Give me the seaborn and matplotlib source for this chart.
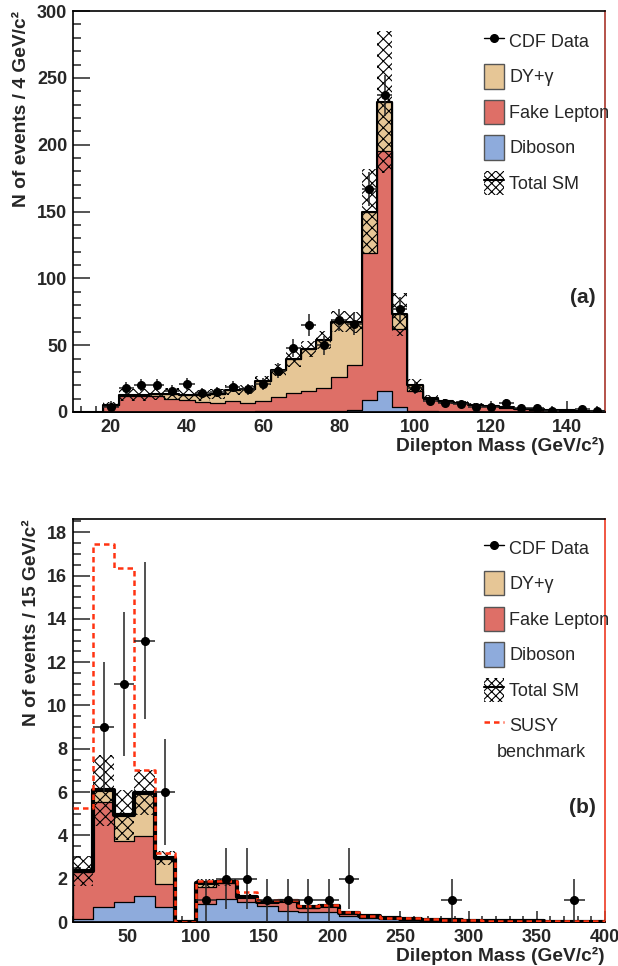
import numpy as np
import pandas as pd
import matplotlib
matplotlib.use("Agg")
import matplotlib.pyplot as plt
import seaborn as sns
from matplotlib.patches import Patch
from matplotlib.lines import Line2D
from matplotlib.legend_handler import HandlerTuple
from matplotlib.ticker import MultipleLocator

# ---------------- panel (a): 4 GeV bins from 10 to 150
edges_a = np.arange(10, 151, 4)
diboson_a = [0, 0, 0.2, 0.3, 0.3, 0.3, 0.3, 0.3, 0.3, 0.3, 0.3, 0.3, 0.4, 0.4, 0.5, 0.5, 0.6, 0.8,
             1.3, 9, 16, 3.5, 0.8, 0.4, 0.3, 0.3, 0.2, 0.2, 0.2, 0.1, 0.1, 0.1, 0.1, 0.1, 0.1]
fake_a = [0, 0, 5.3, 11.7, 11.7, 11.7, 9.7, 8.4, 7.1, 6.4, 7.7, 6.7, 7.6, 10.6, 13.5, 15.5, 17.4, 25.2,
          33.7, 110, 179, 58.5, 15.2, 9.1, 7.2, 6.2, 4.8, 4.0, 3.1, 2.2, 1.7, 1.3, 1.0, 0.8, 0.6]
dy_a = [0, 0, 0, 0.5, 1, 1.5, 3.5, 4.3, 5.1, 6.8, 8.5, 10, 15.5, 20.5, 26, 31.5, 36, 41.5,
        32, 31, 37, 11, 4, 1, 0.5, 0.5, 0.5, 0.3, 0.2, 0.2, 0.2, 0.1, 0.1, 0.1, 0.1]
sm_err_a = [0, 0, 2, 4.5, 4.5, 4.5, 4.5, 4, 4, 4, 3.5, 3.5, 3.5, 4.5, 6, 6, 6.5, 8,
            8, 32, 53, 16, 5, 2.5, 2, 1.5, 1.2, 1, 0.8, 0.6, 0.5, 0.4, 0.3, 0.3, 0.2]
data_a = [0, 0, 4, 18, 20, 20, 16, 21, 14, 15, 19, 17, 21, 31, 48, 65, 50, 69,
          66, 167, 237, 77, 18, 8, 7, 6, 4, 4, 7, 3, 3, 1, 0, 2, 1]

# ---------------- panel (b): 15 GeV bins from 10 to 400
edges_b = np.arange(10, 401, 15)
diboson_b = [0.15, 0.68, 0.94, 1.19, 0.68, 0, 0.84, 1.07, 0.91, 0.73, 0.53, 0.46, 0.45,
             0.26, 0.2, 0.14, 0.12, 0.08, 0.06, 0.05, 0.04, 0.04, 0.03, 0.02, 0.02, 0.02]
fake_b = [2.15, 4.87, 2.82, 2.77, 1.07, 0, 0.76, 0.71, 0.23, 0.18, 0.46, 0.19, 0.27,
          0.16, 0.05, 0.03, 0.02, 0.02, 0.02, 0.01, 0.01, 0.01, 0, 0, 0, 0]
dy_b = [0.06, 0.54, 1.19, 2.02, 1.22, 0, 0.18, 0.05, 0.03, 0.03, 0, 0.03, 0.03,
        0.02, 0.01, 0.01, 0.01, 0, 0, 0.01, 0, 0.01, 0, 0, 0, 0]
sm_err_b = [0.71, 1.64, 1.14, 1.05, 0.33, 0, 0.2, 0.15, 0.12, 0.08, 0.08, 0.06, 0.06,
            0.05, 0.03, 0.02, 0.02, 0.01, 0.01, 0.01, 0.01, 0.01, 0.01, 0, 0, 0]
susy_b = [5.28, 17.47, 16.35, 7.0, 3.2, 0, 1.9, 1.9, 1.37, 1.0, 1.0, 0.72, 0.8,
          0.48, 0.3, 0.2, 0.17, 0.12, 0.1, 0.08, 0.06, 0.07, 0.04, 0.03, 0.03, 0.03]
data_b = [0, 9, 11, 13, 6, 0, 1, 2, 2, 1, 1, 1, 1, 2, 0, 0, 0, 0, 1, 0, 0, 0, 0, 0, 1, 0]

c_dy = "#e6c696"
c_fake = "#de6f67"
c_dib = "#8eabdc"
c_susy = "#ff3311"
susy_dash = (0, (2.2, 1.6))

sns.set_style("ticks")
plt.rcParams["font.family"] = ["Liberation Sans", "DejaVu Sans"]
plt.rcParams["hatch.linewidth"] = 0.8


def draw_panel(ax, edges, dib, fake, dy, err, data, total_lw, susy=None):
    centers = 0.5 * (edges[:-1] + edges[1:])
    widths = np.diff(edges)
    nb = len(centers)
    rng = (float(edges[0]), float(edges[-1]))
    dib = np.array(dib, float)
    fake = np.array(fake, float)
    dy = np.array(dy, float)
    total = dib + fake + dy
    err = np.array(err, float)
    data = np.array(data, float)

    df = pd.DataFrame({"m": centers, "dib": dib, "red": dib + fake, "tot": total})
    # stacked layers, drawn from the top layer down
    for col, c in [("tot", c_dy), ("red", c_fake), ("dib", c_dib)]:
        sns.histplot(data=df, x="m", weights=col, bins=nb, binrange=rng, element="step",
                     fill=True, color=c, alpha=1, edgecolor="black", linewidth=0.9, ax=ax)
    # SM uncertainty band
    ax.bar(centers, 2 * err, bottom=total - err, width=widths, fill=False,
           hatch="xxx", edgecolor="black", linewidth=0, zorder=3)
    sns.histplot(data=df, x="m", weights="tot", bins=nb, binrange=rng, element="step",
                 fill=False, color="black", linewidth=total_lw, ax=ax, zorder=4)
    if susy is not None:
        df["susy"] = susy
        sns.histplot(data=df, x="m", weights="susy", bins=nb, binrange=rng, element="step",
                     fill=False, color=c_susy, linewidth=1.8, linestyle=susy_dash,
                     ax=ax, zorder=5)
    m = data > 0
    ax.errorbar(centers[m], data[m], xerr=widths[m] / 2, yerr=np.sqrt(data[m]), fmt="o",
                color="black", ecolor="#222222", ms=5.5, elinewidth=1.1, capsize=0, zorder=6)


fig = plt.figure(figsize=(6.18, 9.66), dpi=100)
ax1 = fig.add_axes([0.118, 0.5735, 0.861, 0.415])
ax2 = fig.add_axes([0.118, 0.0455, 0.861, 0.417])

draw_panel(ax1, edges_a, diboson_a, fake_a, dy_a, sm_err_a, data_a, 1.5)
draw_panel(ax2, edges_b, diboson_b, fake_b, dy_b, sm_err_b, data_b, 3.0, susy=susy_b)

ax1.set_xlim(10, 150)
ax1.set_ylim(0, 300)
ax1.xaxis.set_major_locator(MultipleLocator(20))
ax1.xaxis.set_minor_locator(MultipleLocator(4))
ax1.yaxis.set_major_locator(MultipleLocator(50))
ax1.yaxis.set_minor_locator(MultipleLocator(10))

ax2.set_xlim(10, 400)
ax2.set_ylim(0, 18.6)
ax2.xaxis.set_major_locator(MultipleLocator(50))
ax2.xaxis.set_minor_locator(MultipleLocator(10))
ax2.yaxis.set_major_locator(MultipleLocator(2))
ax2.yaxis.set_minor_locator(MultipleLocator(0.5))

for ax, ylab, tag, rc in [(ax1, "N of events / 4 GeV/c²", "(a)", "#a8352a"),
                          (ax2, "N of events / 15 GeV/c²", "(b)", "#ee3a22")]:
    ax.tick_params(which="both", direction="in", labelsize=13, width=1.1)
    ax.tick_params(axis="y", which="major", length=12, pad=4)
    ax.tick_params(axis="y", which="minor", length=6)
    ax.tick_params(axis="x", which="major", length=8, pad=5)
    ax.tick_params(axis="x", which="minor", length=4)
    for lab in ax.get_xticklabels() + ax.get_yticklabels():
        lab.set_fontweight("bold")
    for s in ax.spines.values():
        s.set_linewidth(1.2)
        s.set_color("black")
    ax.spines["right"].set_color(rc)
    ax.set_ylabel(ylab, fontsize=13.8, fontweight="bold", loc="top", labelpad=5)
    ax.set_xlabel("Dilepton Mass (GeV/c²)", fontsize=13.8, fontweight="bold", loc="right",
                  labelpad=1)
    ax.text(0.982, 0.285, tag, transform=ax.transAxes, ha="right",
            va="center", fontsize=15, fontweight="bold")

h_data = Line2D([], [], color="black", marker="o", ms=5.5, lw=1)
h_dy = Patch(facecolor=c_dy, edgecolor="#555555", lw=1)
h_fake = Patch(facecolor=c_fake, edgecolor="#555555", lw=1)
h_dib = Patch(facecolor=c_dib, edgecolor="#555555", lw=1)
h_sm = (Patch(fill=False, hatch="xxxx", edgecolor="black", lw=0),
        Line2D([], [], color="black", lw=1.5))
h_susy = Line2D([], [], color=c_susy, lw=1.8, linestyle=susy_dash)

leg_kw = dict(frameon=False, fontsize=13, handlelength=1.1, handleheight=1.7,
              handletextpad=0.3, labelspacing=0.62, loc="upper left",
              handler_map={tuple: HandlerTuple(ndivide=1)})
ax1.legend([h_data, h_dy, h_fake, h_dib, h_sm],
           ["CDF Data", "DY+γ", "Fake Lepton", "Diboson", "Total SM"],
           bbox_to_anchor=(0.742, 0.997), **leg_kw)
ax2.legend([h_data, h_dy, h_fake, h_dib, h_sm, h_susy],
           ["CDF Data", "DY+γ", "Fake Lepton", "Diboson", "Total SM", "SUSY"],
           bbox_to_anchor=(0.742, 1.0), **leg_kw)
ax2.text(0.797, 0.422, "benchmark", transform=ax2.transAxes, ha="left", va="center",
         fontsize=13)

fig.savefig("out.png", dpi=100)
